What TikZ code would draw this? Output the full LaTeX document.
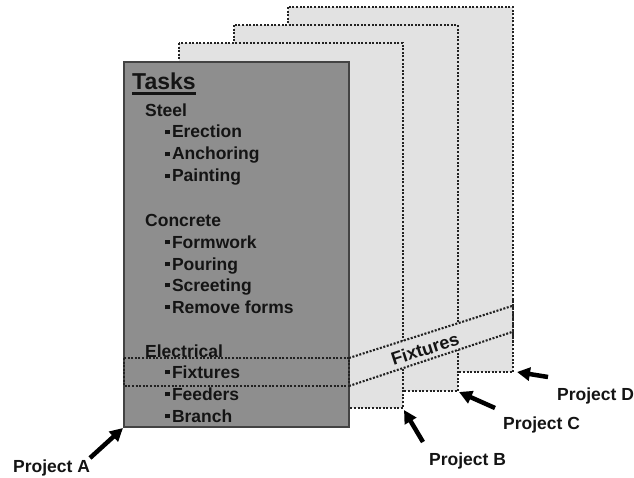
\documentclass[tikz,border=0pt]{standalone}
\usepackage{fontspec}
\setmainfont{Liberation Sans}
\usetikzlibrary{arrows.meta}
\definecolor{lightbox}{HTML}{E2E2E2}
\definecolor{darkbox}{HTML}{8E8E8E}
\definecolor{edge}{HTML}{222222}
\tikzset{
  dotline/.style={draw=edge, line width=2.1pt, dash pattern=on 2pt off 1.6pt},
  backbox/.style={fill=lightbox, dotline},
  frontbox/.style={fill=darkbox, draw=edge!85, line width=1.6pt},
  txt/.style={anchor=base west, inner sep=0pt, font=\fontsize{17.5}{20}\selectfont\bfseries, text=black!92},
  bigtxt/.style={anchor=base west, inner sep=0pt, font=\fontsize{23}{26}\selectfont\bfseries, text=black!92},
  proj/.style={line width=4.5pt, -{Triangle[length=13pt,width=13pt]}, draw=black}
}
\newcommand{\bul}{\rule[3.6pt]{4.8pt}{4.8pt}\hspace{2pt}}
\begin{document}
\begin{tikzpicture}[x=1pt,y=-1pt]
\useasboundingbox (0,0) rectangle (634,478);
% back boxes
\draw[backbox] (288,7) rectangle (513,372);
\draw[backbox] (234,25) rectangle (458,391);
\draw[backbox] (179,43) rectangle (403,408);
% band fill
\fill[lightbox] (349,358) -- (512,306) -- (512,332) -- (349,386) -- cycle;
\draw[dotline] (349,358) -- (512,306);
\draw[dotline] (349,386) -- (512,332);
\draw[dotline] (513,300) -- (513,340);
% front box
\draw[frontbox] (124,62) rectangle (349,427);
\draw[dotline] (124,358) rectangle (349,386);
% texts
\node[bigtxt] (tasks) at (132,90) {Tasks};
\draw[line width=2.2pt, black!92] ([yshift=-3.5pt]tasks.base west) -- ([yshift=-3.5pt]tasks.base east);
\node[txt] (steel) at (145,117) {Steel};
\node[txt] (erection) at (165,138) {\bul Erection};
\node[txt] (anchoring) at (165,160) {\bul Anchoring};
\node[txt] (painting) at (165,182) {\bul Painting};
\node[txt] (concrete) at (145,227) {Concrete};
\node[txt] (formwork) at (165,248) {\bul Formwork};
\node[txt] (pouring) at (165,270) {\bul Pouring};
\node[txt] (screeting) at (165,291) {\bul Screeting};
\node[txt] (remove) at (165,313) {\bul Remove forms};
\node[txt] (electrical) at (145,357) {Electrical};
\node[txt] (fixtures) at (165,378) {\bul Fixtures};
\node[txt] (feeders) at (165,400) {\bul Feeders};
\node[txt] (branch) at (165,422) {\bul Branch};
\node[font=\fontsize{18}{20}\selectfont\bfseries, rotate=18, inner sep=0pt, text=black!92] (fixband) at (425,349) {Fixtures};
% corners
\coordinate (cA) at (123,428);
\coordinate (cB) at (404,410);
\coordinate (cC) at (459,392);
\coordinate (cD) at (517,372);
% labels
\node[txt] (pA) at (13,472) {Project A};
\node[txt] (pB) at (429,465) {Project B};
\node[txt] (pC) at (503,429) {Project C};
\node[txt] (pD) at (557,400) {Project D};
\coordinate (tA) at (90,458);
\coordinate (tB) at (423,442);
\coordinate (tC) at (495,408);
\coordinate (tD) at (548,377);
\draw[proj] (tA) -- (cA);
\draw[proj] (tB) -- (cB);
\draw[proj] (tC) -- (cC);
\draw[proj] (tD) -- (cD);
\end{tikzpicture}
\end{document}
